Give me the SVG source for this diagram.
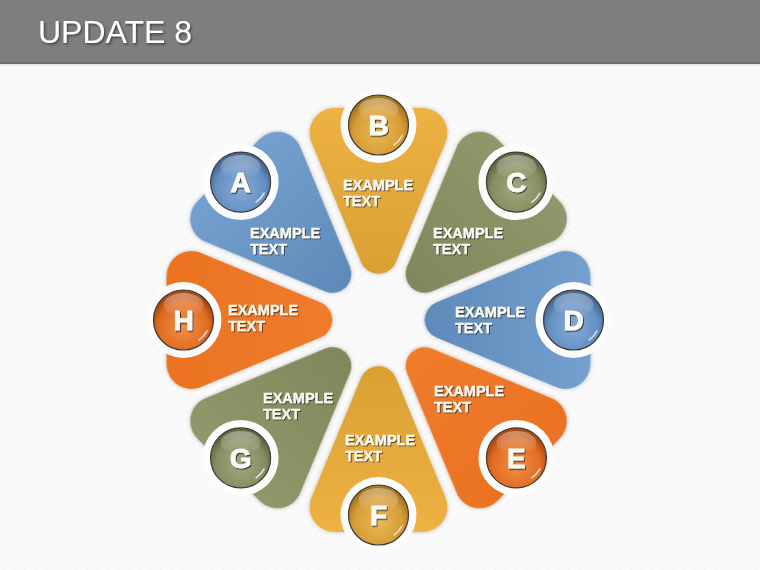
<svg xmlns="http://www.w3.org/2000/svg" xmlns:xlink="http://www.w3.org/1999/xlink" width="760" height="570" viewBox="0 0 760 570">
<style>
.lbl{font-family:"Liberation Sans",Arial,sans-serif;font-weight:bold;font-size:14.5px;fill:#fbf8f0;stroke:#fbf8f0;stroke-width:0.35;filter:url(#ts)}
.let{font-family:"Liberation Sans",Arial,sans-serif;font-weight:bold;font-size:28px;fill:#fbfaf5;stroke:#fbfaf5;stroke-width:0.9;text-anchor:middle;filter:url(#ls)}
.ring{fill:#fcfcfc}
.ball{stroke:#3e3a34;stroke-width:1.2}
.gloss{fill:url(#gloss)}
.glint{fill:none;stroke:#fff;stroke-width:1.5;stroke-linecap:round;opacity:0.8}
.title{font-family:"Liberation Sans",Arial,sans-serif;font-size:32px;fill:#fff;filter:url(#hs)}
</style>
<defs>
<path id="petal" d="M17.37,-57.6 L67,-177.4 A25,25 0 0 0 43.9,-212 L-43.9,-212 A25,25 0 0 0 -67,-177.4 L-17.37,-57.6 A18.8,18.8 0 0 0 17.37,-57.6 Z"/>
<linearGradient id="pBlue" gradientUnits="userSpaceOnUse" x1="0" y1="-212" x2="0" y2="-46"><stop offset="0" stop-color="#74a0cf"/><stop offset="1" stop-color="#5e8aba"/></linearGradient>
<linearGradient id="pGold" gradientUnits="userSpaceOnUse" x1="0" y1="-212" x2="0" y2="-46"><stop offset="0" stop-color="#eeb244"/><stop offset="1" stop-color="#d9a032"/></linearGradient>
<linearGradient id="pOlive" gradientUnits="userSpaceOnUse" x1="0" y1="-212" x2="0" y2="-46"><stop offset="0" stop-color="#91976a"/><stop offset="1" stop-color="#80875c"/></linearGradient>
<linearGradient id="pOrange" gradientUnits="userSpaceOnUse" x1="0" y1="-212" x2="0" y2="-46"><stop offset="0" stop-color="#ea7222"/><stop offset="1" stop-color="#f07c2c"/></linearGradient>
<radialGradient id="bBlue" cx="0.5" cy="0.62" r="0.55"><stop offset="0" stop-color="#84acd8"/><stop offset="0.75" stop-color="#6690c2"/><stop offset="1" stop-color="#44699a"/></radialGradient>
<radialGradient id="bGold" cx="0.5" cy="0.62" r="0.55"><stop offset="0" stop-color="#ebb955"/><stop offset="0.75" stop-color="#d59c36"/><stop offset="1" stop-color="#a8761c"/></radialGradient>
<radialGradient id="bOlive" cx="0.5" cy="0.62" r="0.55"><stop offset="0" stop-color="#a3a87e"/><stop offset="0.75" stop-color="#878d62"/><stop offset="1" stop-color="#616741"/></radialGradient>
<radialGradient id="bOrange" cx="0.5" cy="0.62" r="0.55"><stop offset="0" stop-color="#f28f46"/><stop offset="0.75" stop-color="#e06c22"/><stop offset="1" stop-color="#ad4810"/></radialGradient>
<linearGradient id="gloss" x1="0" y1="0" x2="0" y2="1"><stop offset="0" stop-color="#fff" stop-opacity="0.4"/><stop offset="1" stop-color="#fff" stop-opacity="0"/></linearGradient>
<pattern id="bgp" width="6" height="6" patternUnits="userSpaceOnUse" patternTransform="rotate(-35)"><rect width="6" height="6" fill="#fafafa"/><line x1="0" y1="0" x2="6" y2="0" stroke="#f1f1f1" stroke-width="1"/></pattern>
<filter id="ps" x="-20%" y="-20%" width="140%" height="140%"><feGaussianBlur in="SourceAlpha" stdDeviation="2"/><feComponentTransfer><feFuncA type="linear" slope="0.25"/></feComponentTransfer><feMerge><feMergeNode/><feMergeNode in="SourceGraphic"/></feMerge></filter>
<filter id="ts" x="-10%" y="-30%" width="120%" height="160%"><feDropShadow dx="1" dy="1" stdDeviation="0.6" flood-color="#2a2a2a" flood-opacity="0.75"/></filter>
<filter id="ls" x="-30%" y="-30%" width="160%" height="160%"><feDropShadow dx="1" dy="1.2" stdDeviation="0.7" flood-color="#222" flood-opacity="0.8"/></filter>
<filter id="hs" x="-10%" y="-30%" width="120%" height="160%"><feDropShadow dx="1.2" dy="1.5" stdDeviation="0.8" flood-color="#333" flood-opacity="0.8"/></filter>
</defs>
<rect width="760" height="570" fill="url(#bgp)"/>
<g id="header">
<rect x="0" y="0" width="760" height="62" fill="#7f7d80"/>
<rect x="0" y="62" width="760" height="2" fill="#6c6a6d"/>
<rect x="0" y="64" width="760" height="2" fill="#e8e8e8"/>
<text class="title" x="38" y="43">UPDATE 8</text>
</g>
<g id="connectors"></g>
<g id="node-B">
<use xlink:href="#petal" href="#petal" transform="translate(378.5 320) rotate(0)" fill="url(#pGold)" filter="url(#ps)"/>
<circle class="ring" cx="378.5" cy="125" r="38"/>
<circle class="ball" cx="378.5" cy="125" r="30" fill="url(#bGold)"/>
<ellipse class="gloss" cx="378.5" cy="110" rx="20" ry="12"/>
<path class="glint" d="M402,136 A25,25 0 0 1 394,145"/>
<text class="let" x="378.5" y="135">B</text>
<text class="lbl" x="343" y="190">EXAMPLE</text>
<text class="lbl" x="343" y="206">TEXT</text>
</g>
<g id="node-C">
<use xlink:href="#petal" href="#petal" transform="translate(378.5 320) rotate(45)" fill="url(#pOlive)" filter="url(#ps)"/>
<circle class="ring" cx="516.4" cy="182.1" r="38"/>
<circle class="ball" cx="516.4" cy="182.1" r="30" fill="url(#bOlive)"/>
<ellipse class="gloss" cx="516.4" cy="167.1" rx="20" ry="12"/>
<path class="glint" d="M539.9,193.1 A25,25 0 0 1 531.9,202.1"/>
<text class="let" x="516.4" y="192.1">C</text>
<text class="lbl" x="433" y="238">EXAMPLE</text>
<text class="lbl" x="433" y="254">TEXT</text>
</g>
<g id="node-D">
<use xlink:href="#petal" href="#petal" transform="translate(378.5 320) rotate(90)" fill="url(#pBlue)" filter="url(#ps)"/>
<circle class="ring" cx="573.5" cy="320" r="38"/>
<circle class="ball" cx="573.5" cy="320" r="30" fill="url(#bBlue)"/>
<ellipse class="gloss" cx="573.5" cy="305" rx="20" ry="12"/>
<path class="glint" d="M597,331 A25,25 0 0 1 589,340"/>
<text class="let" x="573.5" y="330">D</text>
<text class="lbl" x="455" y="317">EXAMPLE</text>
<text class="lbl" x="455" y="333">TEXT</text>
</g>
<g id="node-E">
<use xlink:href="#petal" href="#petal" transform="translate(378.5 320) rotate(135)" fill="url(#pOrange)" filter="url(#ps)"/>
<circle class="ring" cx="516.4" cy="457.9" r="38"/>
<circle class="ball" cx="516.4" cy="457.9" r="30" fill="url(#bOrange)"/>
<ellipse class="gloss" cx="516.4" cy="442.9" rx="20" ry="12"/>
<path class="glint" d="M539.9,468.9 A25,25 0 0 1 531.9,477.9"/>
<text class="let" x="516.4" y="467.9">E</text>
<text class="lbl" x="434" y="396">EXAMPLE</text>
<text class="lbl" x="434" y="412">TEXT</text>
</g>
<g id="node-F">
<use xlink:href="#petal" href="#petal" transform="translate(378.5 320) rotate(180)" fill="url(#pGold)" filter="url(#ps)"/>
<circle class="ring" cx="378.5" cy="515" r="38"/>
<circle class="ball" cx="378.5" cy="515" r="30" fill="url(#bGold)"/>
<ellipse class="gloss" cx="378.5" cy="500" rx="20" ry="12"/>
<path class="glint" d="M402,526 A25,25 0 0 1 394,535"/>
<text class="let" x="378.5" y="525">F</text>
<text class="lbl" x="345" y="445">EXAMPLE</text>
<text class="lbl" x="345" y="461">TEXT</text>
</g>
<g id="node-G">
<use xlink:href="#petal" href="#petal" transform="translate(378.5 320) rotate(225)" fill="url(#pOlive)" filter="url(#ps)"/>
<circle class="ring" cx="240.6" cy="457.9" r="38"/>
<circle class="ball" cx="240.6" cy="457.9" r="30" fill="url(#bOlive)"/>
<ellipse class="gloss" cx="240.6" cy="442.9" rx="20" ry="12"/>
<path class="glint" d="M264.1,468.9 A25,25 0 0 1 256.1,477.9"/>
<text class="let" x="240.6" y="467.9">G</text>
<text class="lbl" x="263" y="403">EXAMPLE</text>
<text class="lbl" x="263" y="419">TEXT</text>
</g>
<g id="node-H">
<use xlink:href="#petal" href="#petal" transform="translate(378.5 320) rotate(270)" fill="url(#pOrange)" filter="url(#ps)"/>
<circle class="ring" cx="183.5" cy="320" r="38"/>
<circle class="ball" cx="183.5" cy="320" r="30" fill="url(#bOrange)"/>
<ellipse class="gloss" cx="183.5" cy="305" rx="20" ry="12"/>
<path class="glint" d="M207,331 A25,25 0 0 1 199,340"/>
<text class="let" x="183.5" y="330">H</text>
<text class="lbl" x="228" y="315">EXAMPLE</text>
<text class="lbl" x="228" y="331">TEXT</text>
</g>
<g id="node-A">
<use xlink:href="#petal" href="#petal" transform="translate(378.5 320) rotate(315)" fill="url(#pBlue)" filter="url(#ps)"/>
<circle class="ring" cx="240.6" cy="182.1" r="38"/>
<circle class="ball" cx="240.6" cy="182.1" r="30" fill="url(#bBlue)"/>
<ellipse class="gloss" cx="240.6" cy="167.1" rx="20" ry="12"/>
<path class="glint" d="M264.1,193.1 A25,25 0 0 1 256.1,202.1"/>
<text class="let" x="240.6" y="192.1">A</text>
<text class="lbl" x="250" y="238">EXAMPLE</text>
<text class="lbl" x="250" y="254">TEXT</text>
</g>
</svg>
